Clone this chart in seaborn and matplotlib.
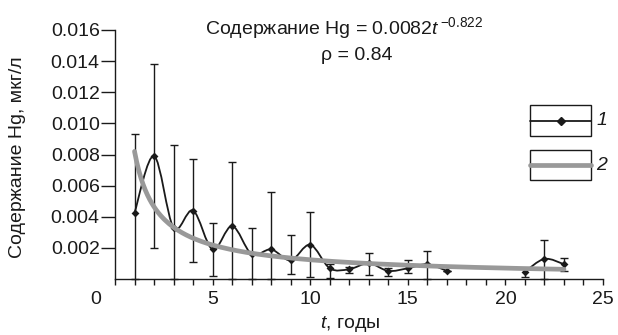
import numpy as np
import pandas as pd
import seaborn as sns
import matplotlib.pyplot as plt
from matplotlib.path import Path
from matplotlib.patches import PathPatch, Rectangle
from matplotlib.lines import Line2D
from matplotlib.ticker import MultipleLocator, FormatStrFormatter

# observed mean Hg by year, with error bar ends
years = [1, 2, 3, 4, 5, 6, 7, 8, 9, 10, 11, 12, 13, 14, 15, 16, 17, 21, 22, 23]
hg = [0.00425, 0.0079, 0.0033, 0.0044, 0.0019, 0.0034, 0.0016, 0.0019, 0.0012, 0.0022,
      0.00069, 0.00063, 0.00101, 0.00052, 0.00069, 0.00095, 0.00052, 0.00047, 0.00129, 0.00095]
hg_upper = [0.0093, 0.0138, 0.0086, 0.0077, 0.0036, 0.0075, 0.0033, 0.0056, 0.0028, 0.0043,
            0.00095, 0.0008, 0.0017, 0.00073, 0.00123, 0.00177, 0.00052, 0.00073, 0.00248, 0.00138]
hg_lower = [0.0, 0.002, 0.0, 0.0011, 0.0002, 0.0, 0.0, 0.0, 0.0003, 0.0001,
            0.00008, 0.00037, 0.00026, 0.00019, 0.00037, 0.0, 0.00052, 0.00015, 0.0, 0.00052]
# connected runs of the smoothed line (no data for 18-20)
runs = [(1, 17), (21, 23)]

# power fit: Hg = 0.0082 t^-0.822
fit_a = 0.0082
fit_b = -0.822
fit_t = np.linspace(1, 23, 200)

df = pd.DataFrame({'t': years, 'hg': hg, 'up': hg_upper, 'lo': hg_lower})
fit_df = pd.DataFrame({'t': fit_t, 'hg': fit_a * fit_t ** fit_b})

sns.set_style('ticks')
plt.rcParams['font.family'] = ['Liberation Sans', 'DejaVu Sans']
plt.rcParams['mathtext.fontset'] = 'custom'
plt.rcParams['mathtext.rm'] = 'Liberation Sans'
plt.rcParams['mathtext.it'] = 'Liberation Sans:italic'
FS = 14

fig = plt.figure(figsize=(6.18, 3.35), dpi=100)
ax = fig.add_axes([115 / 618, 56 / 335, 488 / 618, 249 / 335])


def smooth_path(xs, ys):
    # Catmull-Rom through the points, as cubic Bezier segments
    pts = np.column_stack([xs, ys])
    n = len(pts)
    verts = [pts[0]]
    codes = [Path.MOVETO]
    for i in range(n - 1):
        p0 = pts[i - 1] if i > 0 else pts[i]
        p1, p2 = pts[i], pts[i + 1]
        p3 = pts[i + 2] if i + 2 < n else pts[i + 1]
        verts += [p1 + (p2 - p0) / 6, p2 - (p3 - p1) / 6, p2]
        codes += [Path.CURVE4] * 3
    return Path(verts, codes)


ax.errorbar(df['t'], df['hg'], yerr=[df['hg'] - df['lo'], df['up'] - df['hg']],
            fmt='none', ecolor='#1a1a1a', elinewidth=1.0, capsize=3.2, capthick=1.0,
            zorder=2, clip_on=False)
for start, end in runs:
    seg = df[(df['t'] >= start) & (df['t'] <= end)]
    ax.add_patch(PathPatch(smooth_path(seg['t'].values, seg['hg'].values),
                           facecolor='none', edgecolor='#1a1a1a', lw=1.3, zorder=3))
sns.scatterplot(data=df, x='t', y='hg', marker='D', s=16, color='#1a1a1a',
                edgecolor='#1a1a1a', linewidth=0, zorder=4, ax=ax)
sns.lineplot(data=fit_df, x='t', y='hg', color='#999999', lw=3.4, zorder=5, ax=ax)

ax.set_xlim(0, 25)
ax.set_ylim(0, 0.016)
ax.xaxis.set_minor_locator(MultipleLocator(1))
ax.set_xticks([5, 10, 15, 20, 25])
ax.set_yticks(np.arange(0.002, 0.0161, 0.002))
ax.yaxis.set_major_formatter(FormatStrFormatter('%.3f'))
ax.tick_params(axis='x', which='both', direction='out', length=4, width=1, pad=5,
               labelsize=FS, color='#1a1a1a', labelcolor='#1a1a1a')
ax.tick_params(axis='y', direction='out', length=10, width=1, pad=1,
               labelsize=FS, color='#1a1a1a', labelcolor='#1a1a1a')
for side in ['top', 'right']:
    ax.spines[side].set_visible(False)
for side in ['left', 'bottom']:
    ax.spines[side].set_linewidth(1.0)
    ax.spines[side].set_color('#1a1a1a')
ax.set_xlabel('')
ax.set_ylabel('')

# origin label and axis titles
fig.text(96 / 618, 1 - 300 / 335, '0', fontsize=FS, ha='center', va='center', color='#1a1a1a')
fig.text(350 / 618, 1 - 324 / 335, r'$t$, годы', fontsize=FS, ha='center', va='center',
         color='#1a1a1a')
fig.text(18 / 618, 1 - 157 / 335, 'Содержание Hg, мкг/л', fontsize=FS, rotation=90,
         ha='center', va='center', color='#1a1a1a')

# equation and correlation
fig.text(205 / 618, 1 - 28 / 335, r'Содержание Hg = 0.0082$t^{\,\mathrm{-0.822}}$',
         fontsize=FS, ha='left', va='center', color='#1a1a1a')
fig.text(357 / 618, 1 - 55 / 335, 'ρ = 0.84', fontsize=FS, ha='center', va='center',
         color='#1a1a1a')

# legend: each entry in its own box
legend_items = [('1', 105, 136, '#1a1a1a', 1.3, True),
                ('2', 150, 180, '#999999', 3.4, False)]
for label, top, bottom, color, lw, has_marker in legend_items:
    x0, x1 = 530 / 618, 591 / 618
    y0, y1 = 1 - bottom / 335, 1 - top / 335
    fig.add_artist(Rectangle((x0, y0), x1 - x0, y1 - y0, transform=fig.transFigure,
                             facecolor='white', edgecolor='#1a1a1a', lw=1.0))
    ym = (y0 + y1) / 2
    fig.add_artist(Line2D([x0, x1], [ym, ym], transform=fig.transFigure, color=color, lw=lw))
    if has_marker:
        fig.add_artist(Line2D([(x0 + x1) / 2], [ym], transform=fig.transFigure,
                              marker='D', markersize=4, color='#1a1a1a', lw=0))
    fig.text(602 / 618, ym, label, fontsize=FS, style='italic', ha='center', va='center',
             color='#1a1a1a')

fig.savefig('out.png', dpi=100)
